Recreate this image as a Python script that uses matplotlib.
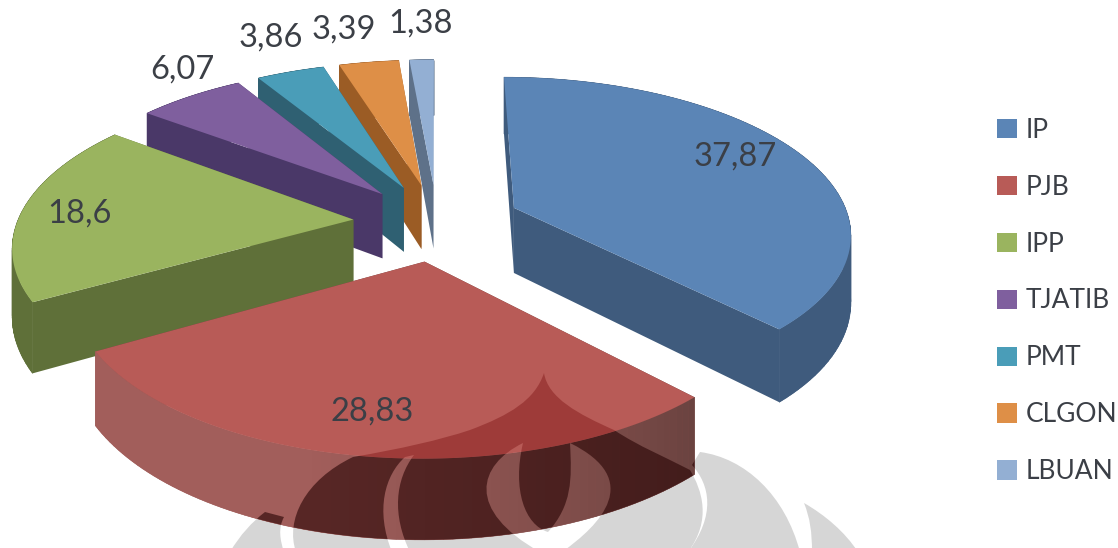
import numpy as np
import matplotlib
matplotlib.use('Agg')
import matplotlib.pyplot as plt
from matplotlib.colors import to_rgb
from matplotlib.patches import PathPatch, Polygon, Patch
from matplotlib.path import Path

plt.rcParams['font.family'] = ['Lato', 'DejaVu Sans']

# data
names = ['IP', 'PJB', 'IPP', 'TJATIB', 'PMT', 'CLGON', 'LBUAN']
values = [37.87, 28.83, 18.6, 6.07, 3.86, 3.39, 1.38]
value_labels = ['37,87', '28,83', '18,6', '6,07', '3,86', '3,39', '1,38']

top_colors = ['#5b85b6', '#b85b57', '#9ab45f', '#7f5f9e', '#4a9db8', '#de8f47', '#93afd3']
side_colors = ['#3f5b7d', '#6b4340', '#5f7039', '#4a3868', '#2f6072', '#9b5c25', '#5e7189']
rim_colors = ['#3f5b7d', '#a25e5b', '#5f7039', '#4a3868', '#2f6072', '#9b5c25', '#5e7189']

# where the value labels sit: radius on the disk, then a nudge in pixels
label_radius = [0.72, 0.78, 0.85, 1.22, 1.25, 1.22, 1.22]
label_nudge = [(11, -13), (-6, 4), (8, 2), (29, -8), (5, -9), (-15, -10), (1, -13)]

# view of the 3d pie
CX, CY = 437, 222
R, TILT, PERSP = 336, 0.459, 0.15
EXPLODE = 0.25
DEPTH = 66


def project(u, v, drop=0.0):
    s = 1 / (1 - PERSP * v)
    return CX + R * u * s, CY + R * TILT * v * s + drop * s


def slice_outline(a0, a1, off):
    ang = np.radians(np.linspace(a0, a1, 80))
    mid = np.radians((a0 + a1) / 2)
    ox, oy = off * np.sin(mid), -off * np.cos(mid)
    u = np.concatenate([[ox], ox + np.sin(ang), [ox]])
    v = np.concatenate([[oy], oy - np.cos(ang), [oy]])
    return u, v, ox, oy


def pts(u, v, drop=0.0):
    x, y = project(u, v, drop)
    return np.column_stack([x, y])


def bezier(*chain):
    # first point starts the outline, then 'c' + three points or 'l' + one point
    verts, codes = [chain[0]], [Path.MOVETO]
    for item in chain[1:]:
        if item[0] == 'c':
            verts += list(item[1:])
            codes += [Path.CURVE4] * 3
        else:
            verts.append(item[1])
            codes.append(Path.LINETO)
    verts.append(chain[0])
    codes.append(Path.CLOSEPOLY)
    return verts, codes


def flame(ax, clip, color, alpha, zorder):
    # faded university logo over the bottom of the page
    body = bezier((544, 373),
                  ('c', (548, 398), (578, 414), (614, 430)),
                  ('c', (640, 447), (665, 457), (690, 470)),
                  ('c', (702, 490), (712, 520), (688, 552)),
                  ('l', (296, 552)),
                  ('c', (285, 520), (305, 480), (353, 457)),
                  ('c', (400, 449), (440, 440), (470, 430)),
                  ('c', (510, 415), (535, 400), (544, 373)))
    gap_a = bezier((405, 457),
                   ('c', (385, 475), (375, 510), (392, 552)),
                   ('l', (410, 552)),
                   ('c', (392, 515), (395, 480), (414, 455)))
    gap_v = bezier((523, 443),
                   ('c', (478, 465), (465, 510), (540, 552)),
                   ('l', (562, 552)),
                   ('c', (600, 525), (645, 480), (570, 443)),
                   ('c', (572, 480), (572, 505), (548, 532)),
                   ('c', (525, 525), (512, 490), (523, 443)))
    right = bezier((700, 452),
                   ('c', (745, 458), (785, 495), (800, 552)),
                   ('l', (688, 552)),
                   ('c', (716, 515), (710, 485), (692, 465)))
    left = bezier((265, 512),
                  ('l', (284, 517)),
                  ('c', (278, 528), (280, 540), (284, 552)),
                  ('l', (230, 552)),
                  ('c', (240, 535), (252, 522), (265, 512)))
    far = bezier((804, 503),
                 ('c', (825, 515), (845, 532), (858, 552)),
                 ('l', (812, 552)),
                 ('c', (812, 532), (810, 518), (804, 503)))
    v0, c0 = body
    for v1, c1 in (gap_a, gap_v):
        v0, c0 = v0 + v1, c0 + c1
    for verts, codes in ((v0, c0), right, left, far):
        patch = PathPatch(Path(verts, codes), facecolor=color, edgecolor='none', alpha=alpha, zorder=zorder)
        ax.add_patch(patch)
        if clip is not None:
            patch.set_clip_path(clip)


fig = plt.figure(figsize=(11.18, 5.48), dpi=100)
ax = fig.add_axes([0, 0, 1, 1])
ax.set_xlim(0, 1118)
ax.set_ylim(548, 0)
ax.axis('off')

# logo behind everything
flame(ax, None, '#d6d6d6', 1, 1)

# slices, clockwise from 12 o'clock
edges = np.concatenate([[0], np.cumsum(values) / np.sum(values) * 360])
draw_order = [6, 5, 4, 3, 2, 0, 1]

for z, i in enumerate(draw_order):
    a0, a1 = edges[i], edges[i + 1]
    u, v, ox, oy = slice_outline(a0, a1, EXPLODE)
    base = 2 + z * 2

    top = pts(u, v)
    low = pts(u, v, DEPTH)
    # radial cut faces
    for j0, j1 in ((0, 1), (80, 81)):
        quad = np.vstack([top[j0], top[j1], low[j1], low[j0]])
        ax.add_patch(Polygon(quad, closed=True, facecolor=side_colors[i], edgecolor='none', zorder=base))
    # outer rim, shaded along the arc (dark at the start, light from the middle on)
    rim = np.vstack([top[1:81], low[1:81][::-1]])
    rim_patch = Polygon(rim, closed=True, facecolor=rim_colors[i], edgecolor='none', zorder=base)
    ax.add_patch(rim_patch)
    c_dark, c_light = np.array(to_rgb(side_colors[i])), np.array(to_rgb(rim_colors[i]))
    for j in range(1, 80):
        t = min(1.0, (j - 1) / 45)
        seg = np.vstack([top[j], top[j + 1], low[j + 1], low[j]])
        col = c_dark + (c_light - c_dark) * t
        ax.add_patch(Polygon(seg, closed=True, facecolor=col, edgecolor=col, linewidth=0.4, zorder=base))
    top_patch = Polygon(top, closed=True, facecolor=top_colors[i], edgecolor='none', zorder=base + 1)
    ax.add_patch(top_patch)

    if names[i] == 'PJB':
        flame(ax, rim_patch, '#2a0505', 0.62, 40)
        flame(ax, top_patch, '#7a1010', 0.42, 41)

    # value label
    mid = np.radians((a0 + a1) / 2)
    lu = ox + label_radius[i] * np.sin(mid)
    lv = oy - label_radius[i] * np.cos(mid)
    lx, ly = project(lu, lv)
    ax.text(lx + label_nudge[i][0], ly + label_nudge[i][1], value_labels[i], fontsize=23.5, color='#3b3f46',
            ha='center', va='center', zorder=50)

handles = [Patch(facecolor=c, edgecolor='none', label=n) for c, n in zip(top_colors, names)]
ax.legend(handles=handles, loc='center left', bbox_to_anchor=(997 / 1118, 1 - 301 / 548), frameon=False,
          fontsize=19, labelcolor='#3b3f46', handlelength=0.75, handleheight=0.75, handletextpad=0.35,
          labelspacing=1.21, borderpad=0, borderaxespad=0)

fig.savefig('out.png', dpi=100)
